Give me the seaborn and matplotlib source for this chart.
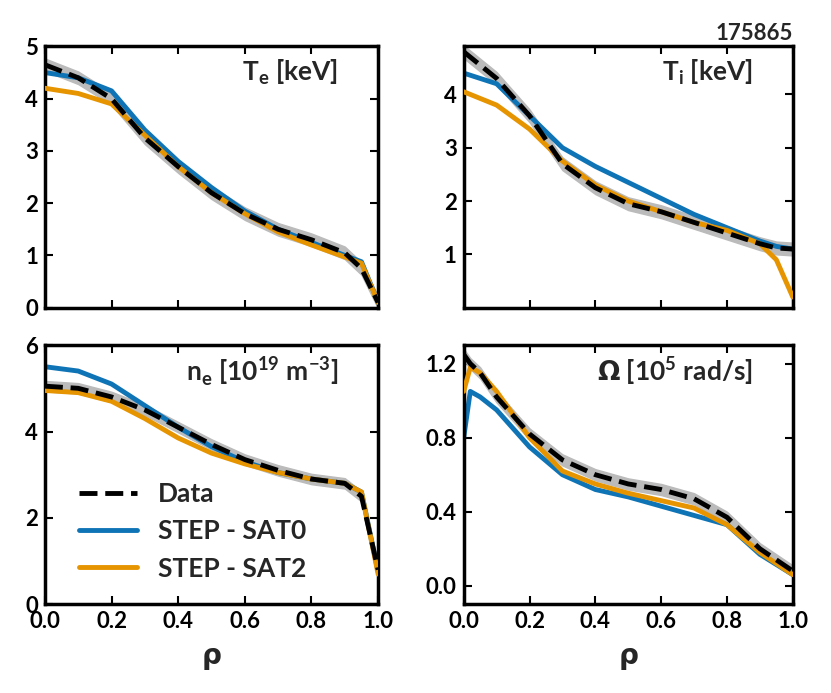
import numpy as np
import matplotlib
matplotlib.use("Agg")
import matplotlib.pyplot as plt
import seaborn as sns

sns.set_style("ticks")
plt.rcParams['font.family'] = ['Lato', 'DejaVu Sans']
plt.rcParams['axes.edgecolor'] = 'black'
plt.rcParams['xtick.color'] = 'black'
plt.rcParams['ytick.color'] = 'black'
plt.rcParams['font.weight'] = 'bold'

# rho grids
rho = [0.0, 0.1, 0.2, 0.3, 0.4, 0.5, 0.6, 0.7, 0.8, 0.9, 0.95, 1.0]
rho_w = [0.0, 0.02, 0.05, 0.1, 0.2, 0.3, 0.4, 0.5, 0.6, 0.7, 0.8, 0.9, 1.0]

te_data = [4.65, 4.4, 4.0, 3.25, 2.7, 2.2, 1.8, 1.5, 1.3, 1.05, 0.75, 0.1]
te_sat0 = [4.5, 4.4, 4.15, 3.4, 2.8, 2.3, 1.85, 1.5, 1.25, 1.0, 0.88, 0.1]
te_sat2 = [4.2, 4.1, 3.9, 3.3, 2.7, 2.2, 1.8, 1.45, 1.2, 0.97, 0.85, 0.1]

ti_data = [4.8, 4.3, 3.6, 2.7, 2.25, 1.95, 1.8, 1.6, 1.4, 1.2, 1.12, 1.1]
ti_sat0 = [4.4, 4.2, 3.6, 3.0, 2.65, 2.35, 2.05, 1.75, 1.5, 1.25, 1.15, 1.1]
ti_sat2 = [4.05, 3.8, 3.35, 2.75, 2.3, 2.0, 1.8, 1.6, 1.45, 1.2, 0.9, 0.2]

ne_data = [5.05, 5.0, 4.8, 4.5, 4.1, 3.7, 3.35, 3.1, 2.9, 2.8, 2.5, 0.8]
ne_sat0 = [5.5, 5.4, 5.1, 4.6, 4.1, 3.65, 3.3, 3.05, 2.9, 2.8, 2.6, 0.75]
ne_sat2 = [4.95, 4.9, 4.7, 4.3, 3.85, 3.5, 3.25, 3.05, 2.9, 2.8, 2.6, 0.7]

om_data = [1.25, 1.2, 1.15, 1.02, 0.82, 0.68, 0.6, 0.55, 0.52, 0.47, 0.37, 0.2, 0.08]
om_sat0 = [0.8, 1.05, 1.02, 0.95, 0.75, 0.6, 0.52, 0.48, 0.43, 0.38, 0.33, 0.17, 0.06]
om_sat2 = [1.05, 1.18, 1.15, 1.05, 0.8, 0.62, 0.55, 0.5, 0.46, 0.42, 0.33, 0.18, 0.06]

blue = '#0f74b6'
orange = '#e69400'

fig = plt.figure(figsize=(8.31, 6.93), dpi=100)
boxes = [
    [0.054, 0.556, 0.401, 0.377],
    [0.558, 0.556, 0.396, 0.377],
    [0.054, 0.128, 0.401, 0.374],
    [0.558, 0.128, 0.396, 0.374],
]
panels = [
    (rho, te_data, te_sat0, te_sat2, 0.12, r'T$_\mathregular{e}$ [keV]', (0, 5), [0, 1, 2, 3, 4, 5], '{:.0f}'),
    (rho, ti_data, ti_sat0, ti_sat2, 0.12, r'T$_\mathregular{i}$ [keV]', (0, 4.9), [1, 2, 3, 4], '{:.0f}'),
    (rho, ne_data, ne_sat0, ne_sat2, 0.12, r'n$_\mathregular{e}$ [10$^\mathregular{19}$ m$^\mathregular{-3}$]', (0, 6), [0, 2, 4, 6], '{:.0f}'),
    (rho_w, om_data, om_sat0, om_sat2, 0.03, r'$\Omega$ [10$^\mathregular{5}$ rad/s]', (-0.1, 1.3), [0.0, 0.4, 0.8, 1.2], '{:.1f}'),
]

for i, (x, d, s0, s2, err, title, ylim, yt, fmt) in enumerate(panels):
    ax = fig.add_axes(boxes[i])
    d = np.array(d)
    ax.fill_between(x, d - err, d + err, color='#bbbbbb', zorder=1)
    sns.lineplot(x=x, y=s0, ax=ax, color=blue, lw=3.5, label='STEP - SAT0', zorder=2)
    sns.lineplot(x=x, y=s2, ax=ax, color=orange, lw=3.5, label='STEP - SAT2', zorder=3)
    sns.lineplot(x=x, y=d, ax=ax, color='black', lw=3.5, ls='--', label='Data', zorder=4)
    ax.set_xlim(0, 1)
    ax.set_ylim(*ylim)
    ax.set_yticks(yt)
    ax.set_yticklabels([fmt.format(v) for v in yt])
    ax.set_xticks([0, 0.2, 0.4, 0.6, 0.8, 1.0])
    ax.tick_params(direction='in', top=True, right=True, length=6, width=1.5,
                   labelsize=16, pad=5)
    for sp in ax.spines.values():
        sp.set_linewidth(2.5)
    ax.text(0.88, 0.9, title, transform=ax.transAxes, ha='right', va='center',
            fontsize=19, fontweight='bold')
    if i < 2:
        ax.set_xticklabels([])
    else:
        ax.set_xlabel(r'$\mathbf{\rho}$', fontsize=20, labelpad=10)
    if i == 2:
        h, l = ax.get_legend_handles_labels()
        ax.legend([h[2], h[0], h[1]], [l[2], l[0], l[1]], loc='lower left',
                  bbox_to_anchor=(0.03, 0.0), frameon=False,
                  handlelength=2.2, prop={'size': 19, 'weight': 'bold'})
    else:
        ax.get_legend().remove()
    if i == 1:
        ax.text(1.0, 1.01, '175865', transform=ax.transAxes, ha='right', va='bottom',
                fontsize=16, fontweight='bold')

fig.savefig('out.png', dpi=100)
